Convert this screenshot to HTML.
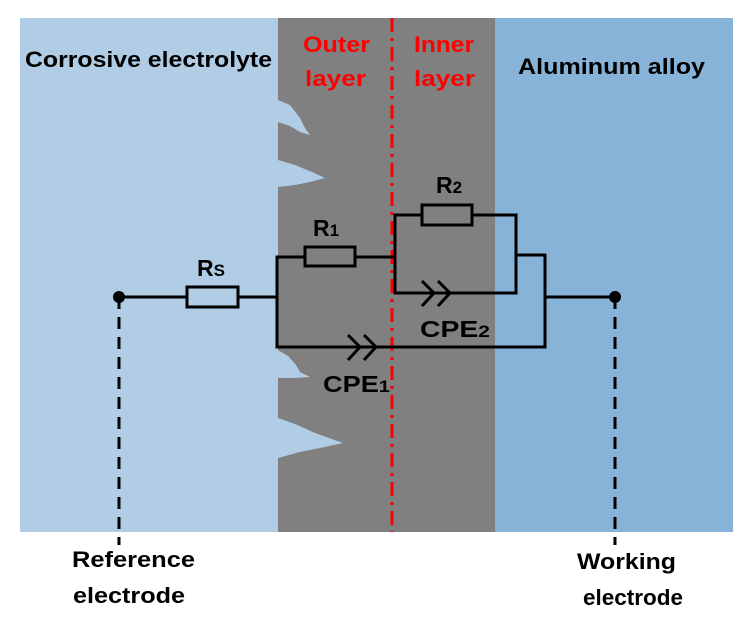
<!DOCTYPE html>
<html><head><meta charset="utf-8"><style>
html,body{margin:0;padding:0;background:#fff;}
svg{display:block;}
text{font-family:"Liberation Sans",sans-serif;font-weight:bold;}
</style></head><body>
<svg width="749" height="639" viewBox="0 0 749 639" xmlns="http://www.w3.org/2000/svg">
<rect x="20" y="18" width="258" height="514" fill="#b1cde6"/>
<rect x="278" y="18" width="217" height="514" fill="#808080"/>
<rect x="495" y="18" width="238" height="514" fill="#88b3d9"/>
<g fill="#b1cde6">
<polygon points="278,100 290,105 300,118 305,128 310,135 300,132 290,126 278,122"/>
<polygon points="278,160 295,165 312,172 325,178 310,182 295,185 278,187"/>
<polygon points="278,350 288,356 296,365 300,372 310,377 295,378 278,378"/>
<polygon points="278,418 295,424 315,433 343,443 320,448 300,452 278,458"/>
</g>
<line x1="392" y1="18" x2="392" y2="532" stroke="#ff0000" stroke-width="3" stroke-dasharray="14,6,3,6"/>
<g stroke="#000" stroke-width="3" fill="none">
<line x1="119" y1="297" x2="187" y2="297"/>
<rect x="187" y="287" width="51" height="20" fill="none"/>
<line x1="238" y1="297" x2="277" y2="297"/>
<polyline points="305,257 277,257 277,347 375,347"/>
<rect x="305" y="247" width="50" height="19"/>
<line x1="355" y1="257" x2="395" y2="257"/>
<polyline points="422,215 395,215 395,293 450,293"/>
<rect x="422" y="205" width="50" height="20"/>
<polyline points="472,215 516,215 516,293 450,293"/>
<polyline points="422,281 434,293 422,306"/>
<polyline points="438,281 450,293 438,306"/>
<polyline points="348,335 360,347 348,360"/>
<polyline points="364,335 376,347 364,360"/>
<polyline points="375,347 545,347 545,255 516,255"/>
<line x1="545" y1="297" x2="615" y2="297"/>
<line x1="119" y1="297" x2="119" y2="545" stroke-dasharray="12,8"/>
<line x1="615" y1="297" x2="615" y2="545" stroke-dasharray="12,8"/>
</g>
<circle cx="119" cy="297" r="6" fill="#000"/>
<circle cx="615" cy="297" r="6" fill="#000"/>
<g font-size="23" fill="#000" lengthAdjust="spacingAndGlyphs">
<text x="25" y="67" font-size="22" textLength="247" lengthAdjust="spacingAndGlyphs">Corrosive electrolyte</text>
<text x="518" y="74" font-size="22" textLength="187" lengthAdjust="spacingAndGlyphs">Aluminum alloy</text>
<text x="197" y="276">R<tspan font-size="17">S</tspan></text>
<text x="313" y="236">R<tspan font-size="17">1</tspan></text>
<text x="436" y="193">R<tspan font-size="17">2</tspan></text>
<text x="420" y="337" textLength="70" lengthAdjust="spacingAndGlyphs">CPE<tspan font-size="17">2</tspan></text>
<text x="323" y="392" textLength="67" lengthAdjust="spacingAndGlyphs">CPE<tspan font-size="17">1</tspan></text>
<text x="72" y="567" font-size="22" textLength="123" lengthAdjust="spacingAndGlyphs">Reference</text>
<text x="73" y="603" font-size="22" textLength="112" lengthAdjust="spacingAndGlyphs">electrode</text>
<text x="577" y="569" font-size="22" textLength="99" lengthAdjust="spacingAndGlyphs">Working</text>
<text x="583" y="605" font-size="22" textLength="100" lengthAdjust="spacingAndGlyphs">electrode</text>
</g>
<g font-size="22" fill="#ff0000">
<text x="303" y="52" textLength="67" lengthAdjust="spacingAndGlyphs">Outer</text>
<text x="305" y="86" textLength="61" lengthAdjust="spacingAndGlyphs">layer</text>
<text x="414" y="52" textLength="60" lengthAdjust="spacingAndGlyphs">Inner</text>
<text x="414" y="86" textLength="61" lengthAdjust="spacingAndGlyphs">layer</text>
</g>
</svg>
</body></html>
